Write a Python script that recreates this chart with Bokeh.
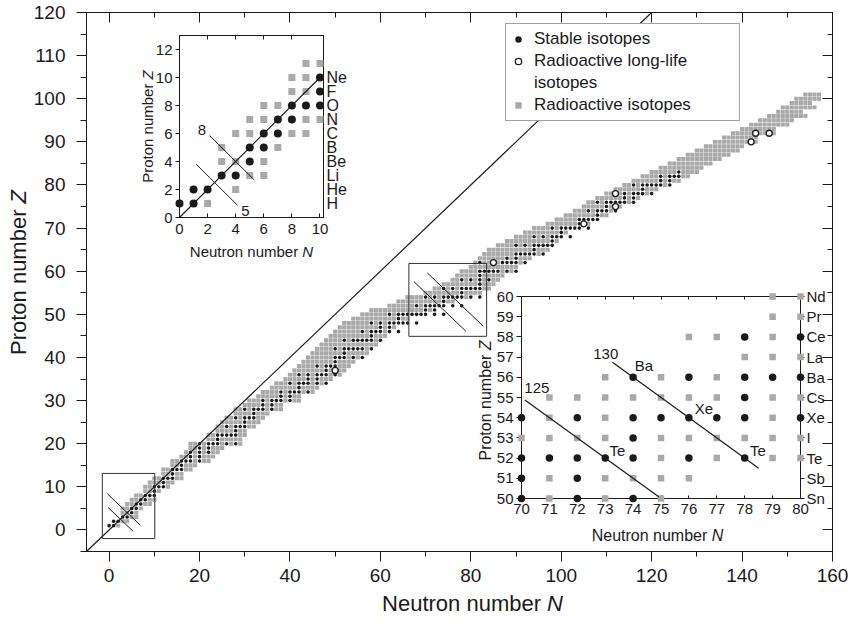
import math
from bokeh.plotting import figure
from bokeh.models import (LinearAxis, SingleIntervalTicker, FixedTicker,
                          Legend, LegendItem, GridBox, Range1d)
from bokeh.core.properties import value
from bokeh.embed import file_html
from bokeh.resources import INLINE

FONT = "Liberation Sans"
GREY = "#a9a9a9"
INK = "#1a1a1a"
NAN = float("nan")

# ======================= DATA =======================
# Main chart: for each proton number Z, the N-range covered by radioactive isotopes
Z_ROWS = list(range(1, 102))
GREY_N_MIN = [0, 1, 3, 3, 3, 4, 5, 6, 8, 8,
              9, 10, 12, 12, 14, 14, 16, 17, 18, 18,
              22, 22, 24, 24, 25, 26, 28, 28, 30, 31,
              33, 34, 36, 37, 39, 40, 41, 42, 43, 44,
              45, 46, 47, 48, 49, 50, 51, 52, 54, 56,
              58, 62, 64, 66, 70, 72, 74, 76, 77, 78,
              80, 81, 82, 83, 84, 86, 88, 90, 92, 94,
              97, 99, 101, 103, 105, 106, 108, 110, 112, 114,
              116, 118, 120, 122, 124, 126, 128, 130, 132, 134,
              136, 138, 140, 142, 144, 146, 148, 149, 151, 152, 154]
GREY_N_MAX = [2, 4, 6, 6, 7, 9, 10, 10, 11, 13,
              14, 16, 16, 18, 19, 22, 23, 24, 25, 29,
              29, 30, 30, 32, 33, 34, 35, 38, 38, 42,
              42, 45, 46, 48, 49, 51, 52, 53, 54, 56,
              57, 58, 59, 60, 61, 62, 63, 64, 66, 70,
              72, 74, 76, 79, 82, 84, 85, 86, 87, 89,
              90, 92, 93, 95, 97, 98, 99, 100, 101, 104,
              106, 108, 110, 112, 113, 115, 117, 119, 121, 124,
              126, 128, 130, 131, 133, 135, 137, 139, 140, 143,
              143, 147, 147, 150, 151, 154, 153, 156, 155, 157, 157]
# stable isotopes: neutron numbers for Z = 1 .. 83
STABLE_N = [
    [0, 1], [1, 2], [3, 4], [5], [5, 6], [6, 7], [7, 8], [8, 9, 10], [10], [10, 11, 12],
    [12], [12, 13, 14], [14], [14, 15, 16], [16], [16, 17, 18, 20], [18, 20], [18, 20, 22],
    [20, 22], [20, 22, 23, 24, 26, 28], [24], [24, 25, 26, 27, 28], [28], [26, 28, 29, 30],
    [30], [28, 30, 31, 32], [32], [30, 32, 33, 34, 36], [34, 36], [34, 36, 37, 38, 40],
    [38, 40], [38, 40, 41, 42, 44], [42], [40, 42, 43, 44, 46, 48], [44, 46],
    [42, 44, 46, 47, 48, 50], [48], [46, 48, 49, 50], [50], [50, 51, 52, 54, 56], [52],
    [50, 52, 53, 54, 55, 56, 58], [], [52, 54, 55, 56, 57, 58, 60], [58],
    [56, 58, 59, 60, 62, 64], [60, 62], [58, 60, 62, 63, 64, 65, 66, 68], [64],
    [62, 64, 65, 66, 67, 68, 69, 70, 72, 74], [70, 72], [68, 70, 71, 72, 73, 74, 76, 78],
    [74], [70, 72, 74, 75, 76, 77, 78, 80, 82], [78], [74, 76, 78, 79, 80, 81, 82], [82],
    [78, 80, 82, 84], [82], [82, 83, 84, 85, 86, 88, 90], [], [82, 87, 88, 89, 90, 92],
    [88, 90], [90, 91, 92, 93, 94, 96], [94], [90, 92, 94, 95, 96, 97, 98], [98],
    [94, 96, 98, 99, 100, 102], [100], [98, 100, 101, 102, 103, 104, 106], [104],
    [104, 105, 106, 107, 108], [108], [106, 108, 109, 110, 112], [110],
    [108, 110, 111, 112, 113, 114, 116], [114, 116], [114, 116, 117, 118, 120], [118],
    [116, 118, 119, 120, 121, 122, 124], [122, 124], [122, 124, 125, 126], [126]]
# radioactive long-life isotopes
LONG_Z = [37, 62, 71, 75, 78, 90, 92, 92]
LONG_N = [50, 85, 105, 112, 112, 142, 143, 146]

# isobar lines A = N + Z in the main chart, and the two zoom boxes
MAIN_ISO_A = [5, 8, 125, 130]
MAIN_ISO_N0 = [-0.2, -0.4, 67.4, 70.4]
MAIN_ISO_N1 = [5.3, 6.9, 78.9, 82.8]
BOX_LEFT = [-1.5, 66.3]
BOX_RIGHT = [10.1, 83.5]
BOX_BOTTOM = [-2.0, 44.9]
BOX_TOP = [13.1, 61.8]

# inset 1: light nuclei
IN1_STABLE_N = [0, 1, 1, 2, 3, 4, 5, 5, 6, 6, 7, 7, 8, 8, 9, 10, 10, 10]
IN1_STABLE_Z = [1, 1, 2, 2, 3, 3, 4, 5, 5, 6, 6, 7, 7, 8, 8, 8, 9, 10]
IN1_RADIO_N = [2, 4, 5, 6, 3, 4, 6, 3, 7, 4, 5, 8, 9, 5, 6, 9, 10, 6, 7, 8, 9, 8, 9, 9, 10]
IN1_RADIO_Z = [1, 2, 3, 3, 4, 4, 4, 5, 5, 6, 6, 6, 6, 7, 7, 7, 7, 8, 8, 9, 9, 10, 10, 11, 11]
IN1_ELEMENTS = ["H", "He", "Li", "Be", "B", "C", "N", "O", "F", "Ne"]
IN1_ISO_A = [5, 8]
IN1_ISO_N0 = [1.19, 2.14]
IN1_ISO_N1 = [4.14, 5.33]
IN1_ISO_LABEL = ["5", "8"]
IN1_ISO_LABEL_N = [4.7, 1.6]
IN1_ISO_LABEL_Z = [0.47, 6.24]

# inset 2: Sn .. Nd
IN2_STABLE_N = [70, 72, 74, 70, 72, 70, 71, 72, 73, 74, 76, 78, 74,
                70, 72, 74, 75, 76, 77, 78, 80, 78, 74, 76, 78, 79, 80, 78, 80]
IN2_STABLE_Z = [50, 50, 50, 51, 51, 52, 52, 52, 52, 52, 52, 52, 53,
                54, 54, 54, 54, 54, 54, 54, 54, 55, 56, 56, 56, 56, 56, 58, 58]
IN2_RADIO_N = [71, 73, 75, 71, 73, 74, 75, 76, 75, 77, 79, 80,
               70, 71, 72, 73, 75, 76, 77, 78, 79, 80, 71, 73, 79,
               71, 72, 73, 74, 75, 76, 77, 79, 80, 73, 75, 77,
               78, 79, 80, 76, 77, 79, 79, 80, 79, 80]
IN2_RADIO_Z = [50, 50, 50, 51, 51, 51, 51, 51, 52, 52, 52, 52,
               53, 53, 53, 53, 53, 53, 53, 53, 53, 53, 54, 54, 54,
               55, 55, 55, 55, 55, 55, 55, 55, 55, 56, 56, 56,
               57, 57, 57, 58, 58, 58, 59, 59, 60, 60]
IN2_ELEMENTS = ["Sn", "Sb", "Te", "I", "Xe", "Cs", "Ba", "La", "Ce", "Pr", "Nd"]
IN2_ISO_A = [125, 130]
IN2_ISO_N0 = [70.12, 73.26]
IN2_ISO_N1 = [74.93, 78.5]
IN2_LABELS = ["125", "130", "Ba", "Xe", "Te", "Te"]
IN2_LABEL_N = [70.55, 73.02, 74.39, 76.54, 73.44, 78.47]
IN2_LABEL_Z = [55.49, 57.13, 56.59, 54.48, 52.39, 52.39]

# axis titles: (plain part, italic part, centre x, centre y in page px, size, vertical)
TITLES = [("Neutron number", "N", 472, 603, 22, False),
          ("Proton number", "Z", 18, 272, 22, True),
          ("Neutron number", "N", 251, 251, 15, False),
          ("Proton number", "Z", 147, 126, 15, True),
          ("Neutron number", "N", 657, 535, 16, False),
          ("Proton number", "Z", 485, 400, 16, True)]

# ======================= LAYOUT (page pixels) =======================
MAIN_FIG = dict(x=0, y=0, w=857, h=626)
MAIN_FRAME = dict(left=86, top=12, w=746, h=539)
MAIN_X, MAIN_Y = (-5, 160), (-5, 120)
IN1_FIG = dict(x=134, y=26, w=221, h=236)
IN1_FRAME = dict(left=179, top=35, w=144, h=182)
IN1_X, IN1_Y = (0, 10.25), (0, 13)
IN2_FIG = dict(x=474, y=285, w=358, h=263)
IN2_FRAME = dict(left=521, top=296, w=279, h=202)
IN2_X, IN2_Y = (70, 80), (50, 60)
TEXT_FIG = dict(x=1, y=1, w=855, h=624)

ARIAL = {"N": .722, "e": .556, "u": .556, "t": .278, "r": .333, "o": .556, "n": .556,
         " ": .278, "m": .833, "b": .556, "P": .667, "Z": .611}


def em(s):
    return sum(ARIAL.get(c, .556) for c in s)


def style_axis(ax, size=15, tin=0, tout=0, min_in=0, min_out=0, standoff=5, labels=True):
    ax.axis_line_color = INK
    ax.axis_line_width = 1
    ax.major_tick_line_color = INK
    ax.minor_tick_line_color = INK
    ax.major_tick_in, ax.major_tick_out = tin, tout
    ax.minor_tick_in, ax.minor_tick_out = min_in, min_out
    ax.major_label_text_font = FONT
    if labels:
        ax.major_label_text_color = INK
        ax.major_label_text_font_size = f"{size}px"
        ax.major_label_standoff = standoff
    else:
        ax.major_label_text_color = None
        ax.major_label_text_font_size = "1px"
        ax.major_label_standoff = 0


def make_fig(figd, frame, xr, yr):
    fig = figure(width=figd["w"], height=figd["h"], x_range=Range1d(*xr), y_range=Range1d(*yr),
                 x_axis_type=None, y_axis_type=None, output_backend="svg", toolbar_location=None,
                 min_border_left=frame["left"] - figd["x"], min_border_top=frame["top"] - figd["y"],
                 min_border_right=figd["x"] + figd["w"] - frame["left"] - frame["w"],
                 min_border_bottom=figd["y"] + figd["h"] - frame["top"] - frame["h"])
    fig.border_fill_color = None
    fig.outline_line_color = INK
    fig.outline_line_width = 1
    fig.background_fill_color = "white"
    return fig


def bare_fig(figd, xr, yr):
    f = figure(width=figd["w"], height=figd["h"], x_range=Range1d(*xr), y_range=Range1d(*yr),
               x_axis_type=None, y_axis_type=None, output_backend="svg", toolbar_location=None,
               min_border=0)
    f.border_fill_color = None
    f.background_fill_color = None
    f.outline_line_color = None
    return f


def make_overlay(frame, xr, yr, margin):
    xpu = frame["w"] / (xr[1] - xr[0])
    ypu = frame["h"] / (yr[1] - yr[0])
    figd = dict(x=frame["left"] - margin, y=frame["top"] - margin,
                w=frame["w"] + 2 * margin, h=frame["h"] + 2 * margin)
    ov = bare_fig(figd, (xr[0] - margin / xpu, xr[1] + margin / xpu),
                  (yr[0] - margin / ypu, yr[1] + margin / ypu))
    return ov, figd


# ======================= MAIN CHART =======================
p = make_fig(MAIN_FIG, MAIN_FRAME, MAIN_X, MAIN_Y)
p.border_fill_color = "white"

ax = LinearAxis(ticker=SingleIntervalTicker(interval=10, num_minor_ticks=2))
style_axis(ax, size=19, tout=10, min_out=6, standoff=11)
p.add_layout(ax, "left")
ax = LinearAxis(ticker=SingleIntervalTicker(interval=20, num_minor_ticks=2))
style_axis(ax, size=19, tout=10, min_out=5, standoff=7)
p.add_layout(ax, "below")
ax = LinearAxis(ticker=SingleIntervalTicker(interval=20, num_minor_ticks=2))
style_axis(ax, tin=10, min_in=5, labels=False)
p.add_layout(ax, "above")
ax = LinearAxis(ticker=SingleIntervalTicker(interval=10, num_minor_ticks=2))
style_axis(ax, tin=10, min_in=5, labels=False)
p.add_layout(ax, "right")

sq_n, sq_z, st_n, st_z = [], [], [], []
for z, lo, hi in zip(Z_ROWS, GREY_N_MIN, GREY_N_MAX):
    taken = set(STABLE_N[z - 1]) if z <= len(STABLE_N) else set()
    taken |= {n for zz, n in zip(LONG_Z, LONG_N) if zz == z}
    for n in range(lo, hi + 1):
        if n not in taken:
            sq_n.append(n)
            sq_z.append(z)
for z, ns in zip(Z_ROWS, STABLE_N):
    for n in ns:
        st_n.append(n)
        st_z.append(z)

p.rect(x=sq_n, y=sq_z, width=0.92, height=0.92, fill_color=GREY, line_color=None)
p.scatter(x=st_n, y=st_z, size=3.6, marker="circle", fill_color=INK, line_color=None)
p.scatter(x=LONG_N, y=LONG_Z, size=6, marker="circle", fill_color="white", line_color=INK,
          line_width=1.3)
p.line(x=[MAIN_X[0], MAIN_Y[1]], y=[MAIN_X[0], MAIN_Y[1]], line_color=INK, line_width=1.2)
p.segment(x0=MAIN_ISO_N0, y0=[a - n for a, n in zip(MAIN_ISO_A, MAIN_ISO_N0)],
          x1=MAIN_ISO_N1, y1=[a - n for a, n in zip(MAIN_ISO_A, MAIN_ISO_N1)],
          line_color=INK, line_width=1)
p.quad(left=BOX_LEFT, right=BOX_RIGHT, bottom=BOX_BOTTOM, top=BOX_TOP,
       fill_color=None, line_color="#333333", line_width=1)

leg_stable = p.scatter(x=[NAN], y=[NAN], size=7, marker="circle", fill_color=INK, line_color=None)
leg_long = p.scatter(x=[NAN], y=[NAN], size=7, marker="circle", fill_color="white",
                     line_color=INK, line_width=1.3)
leg_blank = p.scatter(x=[NAN], y=[NAN], size=1, fill_alpha=0, line_alpha=0)
leg_radio = p.scatter(x=[NAN], y=[NAN], size=7, marker="square", fill_color=GREY, line_color=None)
legend = Legend(items=[LegendItem(label="Stable isotopes", renderers=[leg_stable]),
                       LegendItem(label="Radioactive long-life", renderers=[leg_long]),
                       LegendItem(label="isotopes", renderers=[leg_blank]),
                       LegendItem(label="Radioactive isotopes", renderers=[leg_radio])],
                location=(419, 430), margin=0, padding=4, spacing=0,
                glyph_width=16, glyph_height=22, label_height=22, label_width=201,
                label_standoff=8, label_text_font=FONT, label_text_font_size="17px",
                label_text_color=INK, border_line_color="#444444", border_line_width=1,
                background_fill_color="white", background_fill_alpha=1)
p.add_layout(legend)

# ======================= INSET 1 =======================
i1 = make_fig(IN1_FIG, IN1_FRAME, IN1_X, IN1_Y)
ax = LinearAxis(ticker=FixedTicker(ticks=list(range(0, 13, 2))))
style_axis(ax, size=15, tout=4, standoff=3)
i1.add_layout(ax, "left")
ax = LinearAxis(ticker=FixedTicker(ticks=list(range(0, 11, 2))))
style_axis(ax, size=15, tin=4, standoff=6)
i1.add_layout(ax, "below")
ax = LinearAxis(ticker=FixedTicker(ticks=[2, 4, 6, 8]))
style_axis(ax, tin=4, labels=False)
i1.add_layout(ax, "above")
ax = LinearAxis(ticker=FixedTicker(ticks=list(range(1, 11))),
                major_label_overrides={i + 1: e for i, e in enumerate(IN1_ELEMENTS)})
style_axis(ax, size=16, standoff=3)
i1.add_layout(ax, "right")

o1, o1d = make_overlay(IN1_FRAME, IN1_X, IN1_Y, 8)
o1.scatter(x=IN1_RADIO_N, y=IN1_RADIO_Z, marker="square", size=7, fill_color=GREY, line_color=None)
o1.scatter(x=IN1_STABLE_N, y=IN1_STABLE_Z, marker="circle", size=8, fill_color=INK, line_color=None)
o1.line(x=[0, IN1_X[1] - 0.25], y=[0, IN1_X[1] - 0.25], line_color=INK, line_width=1.2)
o1.segment(x0=IN1_ISO_N0, y0=[a - n for a, n in zip(IN1_ISO_A, IN1_ISO_N0)],
           x1=IN1_ISO_N1, y1=[a - n for a, n in zip(IN1_ISO_A, IN1_ISO_N1)],
           line_color=INK, line_width=1)
o1.text(x=IN1_ISO_LABEL_N, y=IN1_ISO_LABEL_Z, text=IN1_ISO_LABEL, text_font=value(FONT),
        text_font_size="15px", text_align="center", text_baseline="middle", text_color=INK)

# ======================= INSET 2 =======================
i2 = make_fig(IN2_FIG, IN2_FRAME, IN2_X, IN2_Y)
ax = LinearAxis(ticker=FixedTicker(ticks=list(range(50, 61))))
style_axis(ax, size=15, tout=5, standoff=3)
i2.add_layout(ax, "left")
ax = LinearAxis(ticker=FixedTicker(ticks=list(range(70, 81))))
style_axis(ax, size=15, tin=3, standoff=5)
i2.add_layout(ax, "below")
ax = LinearAxis(ticker=FixedTicker(ticks=list(range(70, 81))))
style_axis(ax, tin=3, labels=False)
i2.add_layout(ax, "above")
ax = LinearAxis(ticker=FixedTicker(ticks=list(range(50, 61))),
                major_label_overrides={50 + i: e for i, e in enumerate(IN2_ELEMENTS)})
style_axis(ax, size=15, tout=4, standoff=2)
i2.add_layout(ax, "right")

o2, o2d = make_overlay(IN2_FRAME, IN2_X, IN2_Y, 10)
o2.scatter(x=IN2_RADIO_N, y=IN2_RADIO_Z, marker="square", size=6.5, fill_color=GREY, line_color=None)
o2.scatter(x=IN2_STABLE_N, y=IN2_STABLE_Z, marker="circle", size=7.5, fill_color=INK, line_color=None)
o2.segment(x0=IN2_ISO_N0, y0=[a - n for a, n in zip(IN2_ISO_A, IN2_ISO_N0)],
           x1=IN2_ISO_N1, y1=[a - n for a, n in zip(IN2_ISO_A, IN2_ISO_N1)],
           line_color=INK, line_width=1.2)
o2.text(x=IN2_LABEL_N, y=IN2_LABEL_Z, text=IN2_LABELS, text_font=value(FONT),
        text_font_size="15px", text_align="center", text_baseline="middle", text_color=INK)

# ======================= AXIS TITLES (page-pixel text layer) =======================
tx = bare_fig(TEXT_FIG, (TEXT_FIG["x"], TEXT_FIG["x"] + TEXT_FIG["w"]),
              (TEXT_FIG["y"] + TEXT_FIG["h"], TEXT_FIG["y"]))
for plain, ital, cx, cy, size, vertical in TITLES:
    total = (em(plain) + em(" ") + em(ital)) * size
    shift = (em(plain) + em(" ")) * size
    if vertical:
        xs_, ys_ = [cx, cx], [cy + total / 2, cy + total / 2 - shift]
        ang = math.pi / 2
    else:
        xs_, ys_ = [cx - total / 2, cx - total / 2 + shift], [cy, cy]
        ang = 0
    for k, style in enumerate(["normal", "italic"]):
        tx.text(x=[xs_[k]], y=[ys_[k]], text=[[plain, ital][k]], angle=ang,
                text_font=value(FONT), text_font_size=f"{size}px", text_font_style=style,
                text_align="left", text_baseline="middle", text_color=INK)

# ======================= GRID (overlapping cells, all edges on distinct lines) ==========
placed = [(p, MAIN_FIG), (i1, IN1_FIG), (o1, o1d), (i2, IN2_FIG), (o2, o2d), (tx, TEXT_FIG)]
xl = sorted({d["x"] for _, d in placed} | {d["x"] + d["w"] for _, d in placed})
yl = sorted({d["y"] for _, d in placed} | {d["y"] + d["h"] for _, d in placed})
cols = [f"{b - a}px" for a, b in zip(xl, xl[1:])]
rows = [f"{b - a}px" for a, b in zip(yl, yl[1:])]
children = []
for fig, d in placed:
    c0, c1 = xl.index(d["x"]), xl.index(d["x"] + d["w"])
    r0, r1 = yl.index(d["y"]), yl.index(d["y"] + d["h"])
    children.append((fig, r0, c0, r1 - r0, c1 - c0))
grid = GridBox(children=children, rows=rows, cols=cols, spacing=0)

open("out.html", "w").write(file_html(grid, INLINE))
